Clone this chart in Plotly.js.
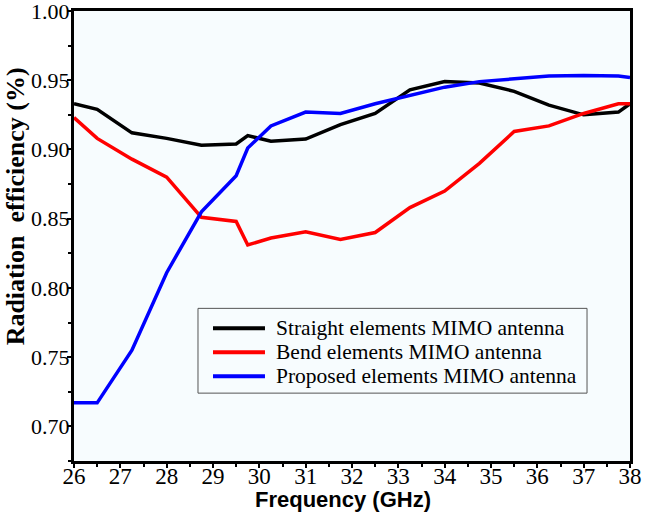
<!DOCTYPE html>
<html>
<head>
<meta charset="utf-8">
<script src="https://cdn.plot.ly/plotly-3.0.1.min.js"></script>
<style>html,body{margin:0;padding:0;background:#fff;}#chart{width:645px;height:516px;}</style>
</head>
<body>
<div id="chart"></div>
<script>
const freq = [26, 26.5, 27.25, 28, 28.75, 29.5, 29.75, 30.25, 31, 31.75, 32.5, 33.25, 34, 34.75, 35.5, 36.25, 37, 37.75, 38];
const straight = [0.933, 0.929, 0.912, 0.908, 0.903, 0.904, 0.910, 0.906, 0.9075, 0.918, 0.926, 0.943, 0.949, 0.948, 0.942, 0.932, 0.925, 0.927, 0.933];
const bend = [0.923, 0.908, 0.893, 0.880, 0.851, 0.848, 0.831, 0.836, 0.8405, 0.835, 0.840, 0.858, 0.870, 0.890, 0.913, 0.917, 0.926, 0.933, 0.933];
const proposed = [0.717, 0.717, 0.755, 0.811, 0.855, 0.881, 0.901, 0.917, 0.927, 0.926, 0.933, 0.939, 0.945, 0.949, 0.951, 0.953, 0.9535, 0.953, 0.952];
const seriesNames = ["Straight elements MIMO antenna", "Bend elements MIMO antenna", "Proposed elements MIMO antenna"];
const xTicks = [26, 27, 28, 29, 30, 31, 32, 33, 34, 35, 36, 37, 38];
const yTicks = [0.70, 0.75, 0.80, 0.85, 0.90, 0.95, 1.00];
const yTickText = ["0.70", "0.75", "0.80", "0.85", "0.90", "0.95", "1.00"];

const serif = "Liberation Serif";
const colors = ["#000000", "#ff0000", "#0000ff"];
const ys = [straight, bend, proposed];

const data = ys.map((y, i) => ({
  x: freq, y: y, type: "scatter", mode: "lines", name: seriesNames[i],
  showlegend: false,
  line: {color: colors[i], width: 3.5}
}));

// Manual legend (box, sample lines, labels) in paper coordinates
const legBox = {x0: 0.223, x1: 0.9227, y0: 0.1508, y1: 0.3392};
const legRowsY = [0.2949, 0.2417, 0.1885];
const shapes = [{
  type: "rect", xref: "paper", yref: "paper",
  x0: legBox.x0, x1: legBox.x1, y0: legBox.y0, y1: legBox.y1,
  line: {color: "#555", width: 1}, fillcolor: "rgba(0,0,0,0)"
}];
const annotations = [];
seriesNames.forEach((name, i) => {
  shapes.push({
    type: "line", xref: "paper", yref: "paper",
    x0: 0.25, x1: 0.3435, y0: legRowsY[i], y1: legRowsY[i],
    line: {color: colors[i], width: 4}
  });
  annotations.push({
    xref: "paper", yref: "paper", x: 0.3597, y: legRowsY[i],
    xanchor: "left", yanchor: "middle", showarrow: false,
    text: name, font: {family: serif, size: 21.5, color: "#000"}
  });
});
annotations.push({
  xref: "paper", yref: "paper", x: 0.484, y: -0.0865,
  xanchor: "center", yanchor: "middle", showarrow: false,
  text: "Frequency (GHz)", font: {family: "Liberation Sans", size: 22, color: "#000", weight: "bold"}
});
annotations.push({
  xref: "paper", yref: "paper", x: -0.106, y: 0.566,
  xanchor: "center", yanchor: "middle", showarrow: false, textangle: -90,
  text: "Radiation  efficiency (%)", font: {family: serif, size: 26, color: "#000", weight: "bold"}
});

const layout = {
  width: 645, height: 516,
  margin: {l: 74, r: 15, t: 11, b: 55},
  font: {family: serif, size: 23, color: "#000"},
  paper_bgcolor: "#ffffff",
  plot_bgcolor: "#f7fcfe",
  showlegend: false,
  shapes: shapes,
  annotations: annotations,
  xaxis: {
    range: [26, 38], tickmode: "array", tickvals: xTicks,
    showline: true, linewidth: 3, linecolor: "#000", mirror: true,
    showgrid: false, zeroline: false,
    ticks: "outside", ticklen: 4, tickwidth: 2, tickcolor: "#000",
    ticklabelstandoff: -12, ticklabeloverflow: "allow",
    minor: {tickmode: "linear", tick0: 26, dtick: 0.5, ticks: "outside", ticklen: 3, tickwidth: 2, tickcolor: "#000", showgrid: false},
    tickfont: {family: serif, size: 23, color: "#000"}
  },
  yaxis: {
    range: [0.675, 1.0], tickmode: "array", tickvals: yTicks, ticktext: yTickText,
    showline: true, linewidth: 3, linecolor: "#000", mirror: true,
    showgrid: false, zeroline: false,
    ticks: "outside", ticklen: 4, tickwidth: 2, tickcolor: "#000",
    ticklabelstandoff: -7, ticklabeloverflow: "allow",
    minor: {tickmode: "linear", tick0: 0.7, dtick: 0.025, ticks: "outside", ticklen: 3, tickwidth: 2, tickcolor: "#000", showgrid: false},
    tickfont: {family: serif, size: 22, color: "#000"}
  }
};

Plotly.newPlot("chart", data, layout, {displayModeBar: false, staticPlot: true});
</script>
</body>
</html>
